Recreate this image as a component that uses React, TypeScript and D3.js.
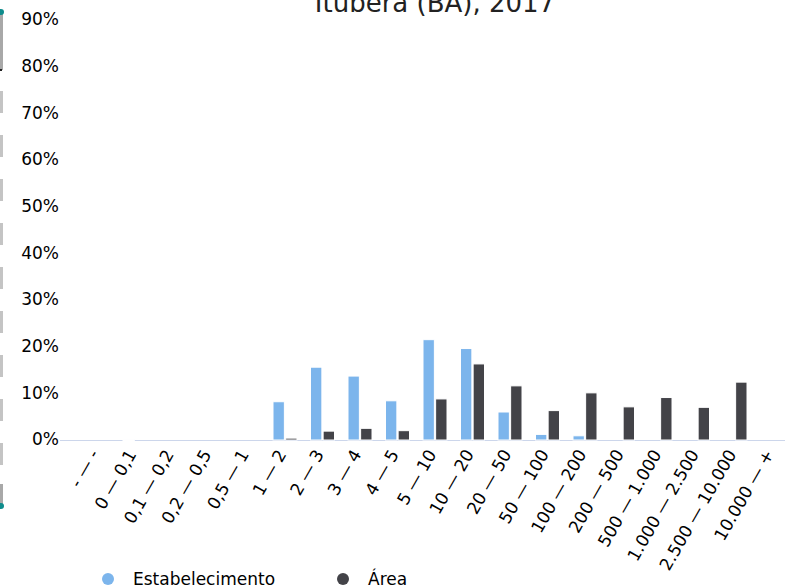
import React from 'react'
import * as d3 from 'd3'

const categories = [
    '- — -', '0 — 0,1', '0,1 — 0,2', '0,2 — 0,5', '0,5 — 1', '1 — 2', '2 — 3', '3 — 4', '4 — 5',
    '5 — 10', '10 — 20', '20 — 50', '50 — 100', '100 — 200', '200 — 500', '500 — 1.000',
    '1.000 — 2.500', '2.500 — 10.000', '10.000 — +'
];
const estabelecimento = [0, 0.1, 0, 0, 0, 8.2, 15.6, 13.7, 8.4, 21.5, 19.6, 6.0, 1.2, 0.9, 0, 0, 0, 0, 0];
const area = [0, 0, 0, 0, 0, 0.4, 1.9, 2.5, 2.0, 8.8, 16.3, 11.6, 6.3, 10.1, 7.1, 9.1, 7.0, 12.4, 0];
const seriesNames = ['Estabelecimento', 'Área'];
const colors = ['#7cb5ec', '#434348'];
const yTicks = [0, 10, 20, 30, 40, 50, 60, 70, 80, 90];
const title = 'Ituberá (BA), 2017';

const width = 785;
const height = 587;
const font = '"DejaVu Sans", Verdana, sans-serif';

export default function App() {
    const x = d3.scaleBand().domain(categories).range([78.75, 791.25]);
    const inner = d3.scaleBand().domain(seriesNames).range([-12, 12]).paddingInner(0.1);
    const y = d3.scaleLinear().domain([0, 90]).range([440, 20]);
    const series = [estabelecimento, area];
    const center = (c: string) => (x(c) as number) + x.bandwidth() / 2;

    return (
        <svg width={width} height={height}
             style={{position: 'fixed', left: 0, top: 0, fontFamily: font, background: '#fff'}}>
            {/* side widget */}
            <rect x={0} y={14} width={3} height={56} fill="#a8a8a8"/>
            <line x1={1.5} x2={1.5} y1={69} y2={484} stroke="#c4c4c4" strokeWidth={3}
                  strokeDasharray="22 22" strokeDashoffset={22}/>
            <rect x={0} y={484} width={3} height={22} fill="#a8a8a8"/>
            <rect x={0} y={69} width={2} height={2} fill="#222"/>
            <circle cx={1} cy={12} r={3} fill="#0e8c8c"/>
            <circle cx={1} cy={506} r={3} fill="#0e8c8c"/>

            <text x={435} y={12} textAnchor="middle" fontSize={26} fill="#222">{title}</text>

            {yTicks.map(t => (
                <text key={t} x={59} y={y(t)} dy="0.32em" textAnchor="end" fontSize={17} fill="#000">{t}%</text>
            ))}

            <line x1={60} x2={width} y1={y(0) + 0.5} y2={y(0) + 0.5} stroke="#ccd6eb" strokeWidth={1}/>

            {series.map((vals, s) => (
                <g key={s} fill={colors[s]} stroke="#fff" strokeWidth={1}>
                    {categories.map((c, i) => vals[i] > 0 ? (
                        <rect key={c}
                              x={center(c) + (inner(seriesNames[s]) as number)}
                              width={inner.bandwidth()}
                              y={y(vals[i])}
                              height={Math.max(1, y(0) - y(vals[i]))}/>
                    ) : null)}
                </g>
            ))}

            {categories.map(c => (
                <text key={c} transform={`translate(${center(c) + 2},${y(0) + 14}) rotate(-60)`}
                      textAnchor="end" fontSize={17} fill="#000">{c}</text>
            ))}

            <g fontSize={17}>
                <circle cx={108} cy={579} r={6} fill={colors[0]}/>
                <text x={133} y={585} fill="#000">{seriesNames[0]}</text>
                <circle cx={343} cy={579} r={6} fill={colors[1]}/>
                <text x={368} y={585} fill="#000">{seriesNames[1]}</text>
            </g>
        </svg>
    );
}
